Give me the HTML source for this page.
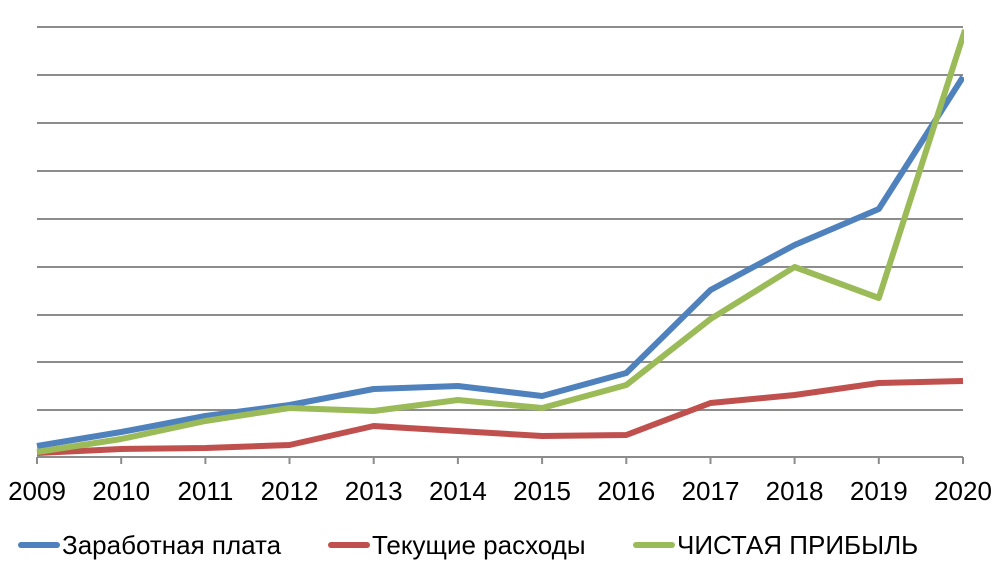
<!DOCTYPE html><html><head><meta charset="utf-8"><style>body{margin:0;background:#fff}svg{display:block}text{font-family:"Liberation Sans",Arial,sans-serif;font-size:26px;fill:#000}</style></head><body>
<svg width="999" height="567" viewBox="0 0 999 567">
<g stroke="#8c8c8c" stroke-width="2">
<line x1="37" x2="963" y1="27" y2="27"/><line x1="37" x2="963" y1="75" y2="75"/><line x1="37" x2="963" y1="123" y2="123"/><line x1="37" x2="963" y1="171" y2="171"/><line x1="37" x2="963" y1="219" y2="219"/><line x1="37" x2="963" y1="267" y2="267"/><line x1="37" x2="963" y1="315" y2="315"/><line x1="37" x2="963" y1="362" y2="362"/><line x1="37" x2="963" y1="410" y2="410"/><line x1="37" x2="963" y1="457" y2="457"/>
<path d="M37 457v7M121.2 457v7M205.4 457v7M289.5 457v7M373.7 457v7M457.9 457v7M542.1 457v7M626.3 457v7M710.5 457v7M794.6 457v7M878.8 457v7M963 457v7"/>
</g>
<defs><clipPath id="c"><rect x="0" y="0" width="964" height="567"/></clipPath></defs>
<g fill="none" stroke-width="6" stroke-linejoin="round" clip-path="url(#c)">
<polyline stroke="#c0504d" points="37,453 121.2,449 205.4,448 289.5,445 373.7,426 457.9,431 542.1,436 626.3,435 710.5,403 794.6,395 878.8,383 963,381"/>
<polyline stroke="#4f81bd" points="37,446 121.2,432 205.4,416 289.5,405 373.7,389 457.9,386 542.1,396 626.3,373 710.5,290 794.6,245 878.8,209 963,77"/>
<polyline stroke="#9bbb59" points="37,452 121.2,439 205.4,421 289.5,408 373.7,411 457.9,400 542.1,408 626.3,385 710.5,319 794.6,267 878.8,298 965,30"/>
</g>
<g text-anchor="middle">
<text x="37" y="500">2009</text><text x="121.2" y="500">2010</text><text x="205.4" y="500">2011</text><text x="289.5" y="500">2012</text><text x="373.7" y="500">2013</text><text x="457.9" y="500">2014</text><text x="542.1" y="500">2015</text><text x="626.3" y="500">2016</text><text x="710.5" y="500">2017</text><text x="794.6" y="500">2018</text><text x="878.8" y="500">2019</text><text x="963" y="500">2020</text>
</g>
<g stroke-width="6" stroke-linecap="round"><line x1="21" x2="57" y1="545" y2="545" stroke="#4f81bd"/><line x1="331" x2="367" y1="545" y2="545" stroke="#c0504d"/><line x1="636" x2="672" y1="545" y2="545" stroke="#9bbb59"/></g>
<text x="62" y="554">Заработная плата</text><text x="372" y="554">Текущие расходы</text><text x="677" y="554">ЧИСТАЯ ПРИБЫЛЬ</text>
</svg></body></html>
